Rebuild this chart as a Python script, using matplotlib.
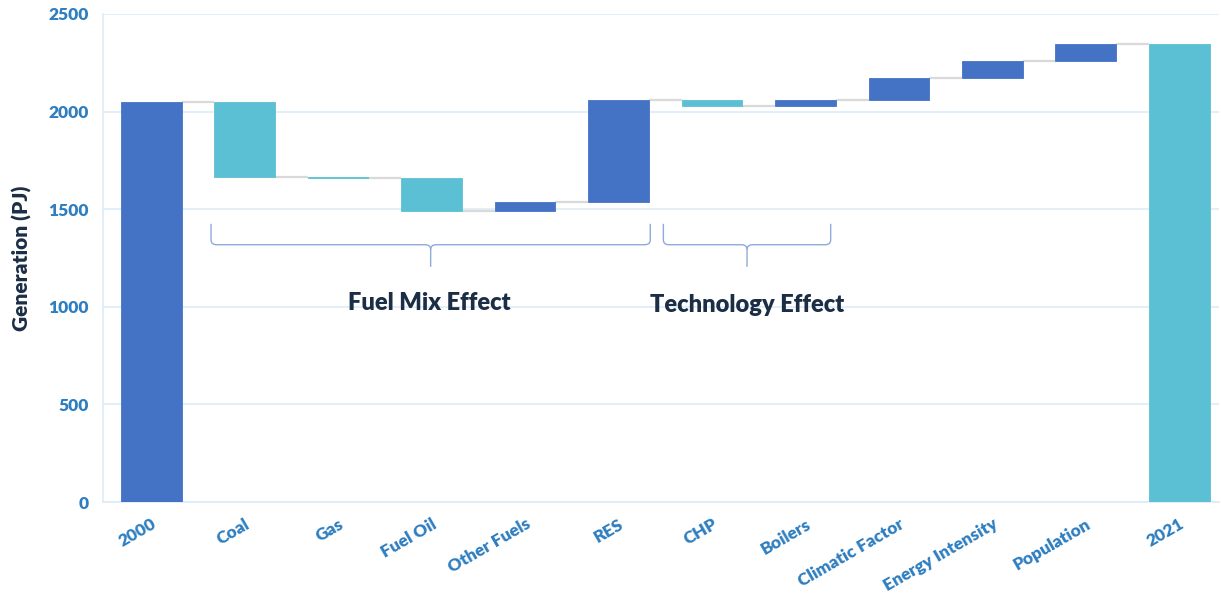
import matplotlib
matplotlib.use("Agg")
import matplotlib.pyplot as plt
from matplotlib.path import Path
from matplotlib.patches import PathPatch
import numpy as np

plt.rcParams['font.family'] = ['Lato', 'DejaVu Sans']

# Energy generation decomposition, 2000 -> 2021 (PJ)
categories = ["2000", "Coal", "Gas", "Fuel Oil", "Other Fuels", "RES", "CHP",
              "Boilers", "Climatic Factor", "Energy Intensity", "Population", "2021"]
start_value = 2047
changes = [-380, -8, -166, 44, 521, -27, 28, 114, 87, 87]
end_value = 2347

DARK = "#4472C4"
LIGHT = "#5BC0D3"
GRID = "#DDEBF7"
TICK = "#2E7EC0"
NAVY = "#1B2E45"
BRACE = "#8FAADC"
CONNECT = "#D9D9D9"
WEIGHT = 'heavy'

fig = plt.figure(figsize=(12.21, 6.0), dpi=100)
ax = fig.add_axes([0.0844, 0.1633, 0.9136, 0.8134])

x = np.arange(len(categories))
width = 0.65

bottoms, heights, colors, levels = [], [], [], []
running = start_value
bottoms.append(0); heights.append(start_value); colors.append(DARK); levels.append(start_value)
for c in changes:
    new = running + c
    bottoms.append(min(running, new))
    heights.append(abs(c))
    colors.append(DARK if c > 0 else LIGHT)
    levels.append(new)
    running = new
bottoms.append(0); heights.append(end_value); colors.append(LIGHT); levels.append(end_value)

ax.bar(x, heights, bottom=bottoms, width=width, color=colors, zorder=3,
       edgecolor=[c for c in colors], linewidth=0.6)

# connector lines between consecutive bars
for i in range(len(categories) - 1):
    ax.plot([x[i] + width / 2, x[i + 1] - width / 2], [levels[i], levels[i]],
            color=CONNECT, lw=1.6, zorder=2, solid_capstyle='butt')

ax.set_xlim(-0.515, 11.42)
ax.set_ylim(0, 2500)
ax.set_yticks([0, 500, 1000, 1500, 2000, 2500])
ax.yaxis.grid(True, color=GRID, lw=1.2, zorder=0)
ax.set_axisbelow(True)
for s in ["top", "right"]:
    ax.spines[s].set_visible(False)
for s in ["left", "bottom"]:
    ax.spines[s].set_color(GRID)
    ax.spines[s].set_linewidth(1.2)

ax.tick_params(axis='y', length=0, pad=10, labelsize=12.5, labelcolor=TICK)
ax.tick_params(axis='x', length=0, pad=10, labelsize=12.5, labelcolor=TICK)
for lab in ax.get_yticklabels():
    lab.set_fontweight(WEIGHT)

ax.set_xticks(x)
ax.set_xticklabels(categories, rotation=30, ha='right', va='top',
                   rotation_mode='anchor', fontweight=WEIGHT)

ax.set_ylabel("Generation (PJ)", fontsize=15, fontweight=WEIGHT, color=NAVY, labelpad=12)


def brace(ax, x0, x1, y_top, y_mid, y_tip, r=0.06, ry=25):
    """Curly brace opening upward, spanning x0..x1."""
    xc = (x0 + x1) / 2
    verts = [
        (x0, y_top), (x0, y_mid + ry), (x0, y_mid), (x0 + r, y_mid),
        (xc - r, y_mid), (xc, y_mid), (xc, y_mid - ry), (xc, y_tip),
    ]
    codes = [Path.MOVETO, Path.LINETO, Path.CURVE3, Path.CURVE3,
             Path.LINETO, Path.CURVE3, Path.CURVE3, Path.LINETO]
    right = [
        (x1, y_top), (x1, y_mid + ry), (x1, y_mid), (x1 - r, y_mid),
        (xc + r, y_mid), (xc, y_mid), (xc, y_mid - ry),
    ]
    rcodes = [Path.MOVETO, Path.LINETO, Path.CURVE3, Path.CURVE3,
              Path.LINETO, Path.CURVE3, Path.CURVE3]
    ax.add_patch(PathPatch(Path(verts, codes), fill=False, edgecolor=BRACE, lw=1.0, zorder=4))
    ax.add_patch(PathPatch(Path(right, rcodes), fill=False, edgecolor=BRACE, lw=1.0, zorder=4))


brace(ax, 0.64, 5.34, 1425, 1318, 1205)
brace(ax, 5.48, 7.27, 1425, 1318, 1205)

ax.text(2.98, 1018, "Fuel Mix Effect", ha='center', va='center', fontsize=17,
        fontweight=WEIGHT, color=NAVY, zorder=5)
ax.text(6.38, 1008, "Technology Effect", ha='center', va='center', fontsize=17,
        fontweight=WEIGHT, color=NAVY, zorder=5)

fig.savefig("out.png", dpi=100, facecolor="white")
